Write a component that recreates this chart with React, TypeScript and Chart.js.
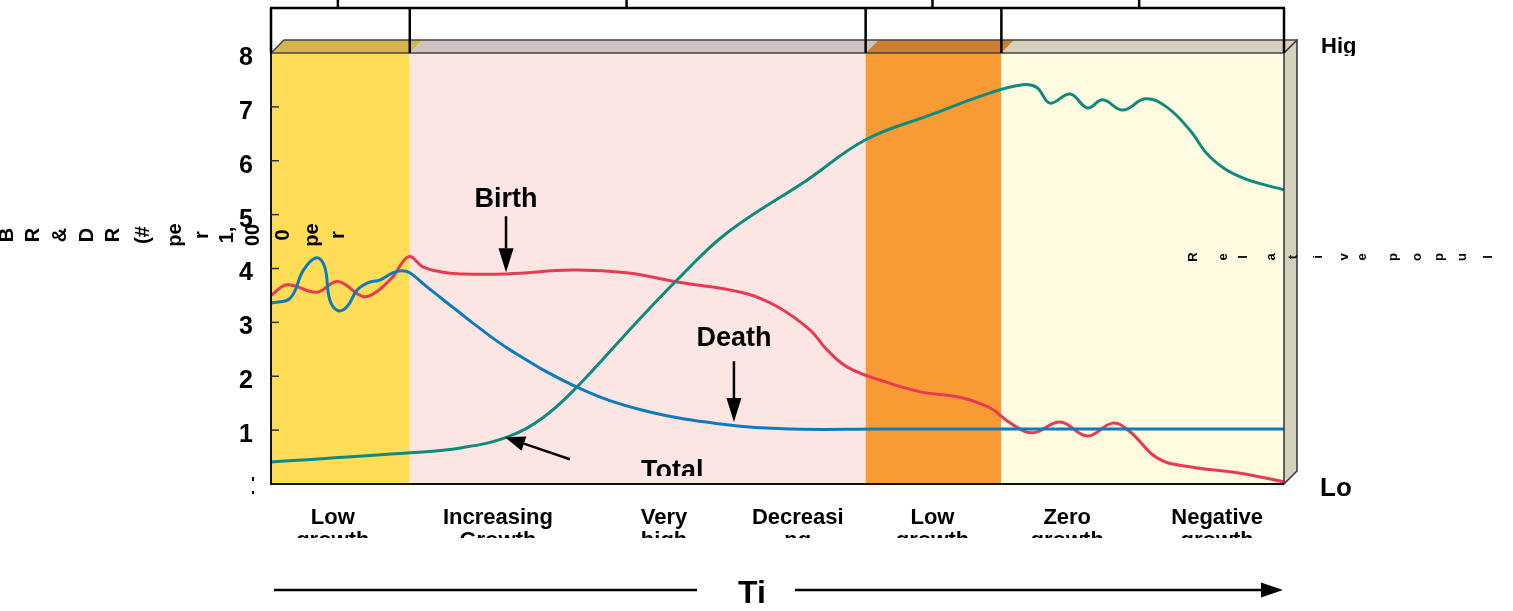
import { useEffect, useRef } from "react";
import { Chart, registerables } from "chart.js";

Chart.register(...registerables);

// ---- data (x = time position 0..100, y = rate per 1,000) ----
const birthX = [0, 1.6, 4.5, 6.6, 9.1, 10.5, 12.0, 13.6, 15.0, 16.7, 18.7, 23.3, 29.8, 35.1, 40.1, 46.6, 50.0, 53.2, 54.9, 56.9, 60.1, 64.1, 68.0, 71.0, 73.0, 75.2, 77.9, 80.6, 83.1, 84.8, 87.5, 90.7, 95.7, 100];
const birthY = [3.5, 3.7, 3.56, 3.76, 3.48, 3.58, 3.84, 4.22, 4.03, 3.94, 3.9, 3.9, 3.97, 3.92, 3.75, 3.55, 3.29, 2.86, 2.49, 2.17, 1.93, 1.71, 1.61, 1.41, 1.13, 0.95, 1.15, 0.89, 1.13, 0.97, 0.48, 0.32, 0.2, 0.04];

const deathX = [0, 1.9, 3.2, 4.5, 5.3, 5.8, 6.6, 7.5, 8.5, 9.5, 10.8, 12.0, 12.9, 13.7, 15.4, 17.4, 18.7, 19.9, 23.6, 30.2, 36.7, 45.0, 51.5, 60.1, 100];
const deathY = [3.36, 3.45, 3.97, 4.2, 4.03, 3.42, 3.22, 3.29, 3.6, 3.73, 3.79, 3.92, 3.96, 3.92, 3.66, 3.36, 3.17, 2.99, 2.49, 1.8, 1.37, 1.1, 1.02, 1.02, 1.02];

const totalX = [0, 13.7, 18.7, 23.3, 26.9, 30.2, 35.1, 40.1, 45.0, 52.9, 58.7, 65.1, 71.0, 74.2, 75.6, 76.9, 78.9, 80.6, 82.1, 84.1, 86.3, 88.4, 90.7, 92.7, 95.7, 100];
const totalY = [0.41, 0.58, 0.67, 0.87, 1.24, 1.8, 2.8, 3.79, 4.66, 5.64, 6.39, 6.85, 7.26, 7.41, 7.36, 7.07, 7.24, 6.98, 7.13, 6.94, 7.15, 7.0, 6.57, 6.07, 5.7, 5.46];

const stageBounds = [0, 13.7, 58.7, 72.1, 100];
const bandFill = ["#ffdd57", "#fce6e4", "#f99b35", "#fefbe0"];
const bandTop = ["#d6b54e", "#cfc2c0", "#c98031", "#d4d2bc"];
const bracketCenters = [6.6, 35.1, 65.3, 85.7];

const stageLine1 = ["Low", "Increasing", "Very", "Decreasi", "Low", "Zero", "Negative"];
const stageLine2 = ["growth", "Growth", "high", "ng", "growth", "growth", "growth"];
const stageLabelX = [6.1, 22.4, 38.8, 52.0, 65.3, 78.6, 93.4];

const yTitleParts = ["B", "R", "&", "D", "R", "(#", "pe", "r", "1,", "00", "0", "pe", "r"];
const yTitleX = [7, 33, 60, 87, 113, 143, 175, 202, 227, 253, 283, 312, 338];
const rightTitleChars = ["R", "e", "l", "a", "t", "i", "v", "e", "p", "o", "p", "u", "l"];
const rightTitleX = [1193, 1223, 1243, 1271, 1293, 1318, 1344, 1362, 1393, 1417, 1439, 1462, 1488];

const FONT = '"Liberation Sans", Arial, Helvetica, sans-serif';

function arrow(ctx: CanvasRenderingContext2D, x1: number, y1: number, x2: number, y2: number, headLen: number, headW: number, lw: number) {
  const ang = Math.atan2(y2 - y1, x2 - x1);
  const bx = x2 - headLen * Math.cos(ang);
  const by = y2 - headLen * Math.sin(ang);
  ctx.beginPath();
  ctx.moveTo(x1, y1);
  ctx.lineTo(bx, by);
  ctx.lineWidth = lw;
  ctx.stroke();
  ctx.beginPath();
  ctx.moveTo(x2, y2);
  ctx.lineTo(bx + (headW / 2) * Math.sin(ang), by - (headW / 2) * Math.cos(ang));
  ctx.lineTo(bx - (headW / 2) * Math.sin(ang), by + (headW / 2) * Math.cos(ang));
  ctx.closePath();
  ctx.fill();
}

function clippedText(ctx: CanvasRenderingContext2D, text: string, x: number, y: number, clipBottom: number) {
  ctx.save();
  ctx.beginPath();
  ctx.rect(0, 0, 1513, clipBottom);
  ctx.clip();
  ctx.fillText(text, x, y);
  ctx.restore();
}

const decor = {
  id: "decor",
  beforeDatasetsDraw(chart: any) {
    const { ctx, chartArea: a, scales } = chart;
    const xs = scales.x;
    ctx.save();
    for (let i = 0; i < bandFill.length; i++) {
      const x0 = xs.getPixelForValue(stageBounds[i]);
      const x1 = xs.getPixelForValue(stageBounds[i + 1]);
      ctx.fillStyle = bandFill[i];
      ctx.fillRect(x0, a.top, x1 - x0, a.bottom - a.top);
    }
    ctx.restore();
  },
  afterDatasetsDraw(chart: any) {
    const { ctx, chartArea: a, scales } = chart;
    const xs = scales.x;
    const ys = scales.y;
    const d = 13;
    ctx.save();

    // top face
    for (let i = 0; i < bandTop.length; i++) {
      const x0 = xs.getPixelForValue(stageBounds[i]);
      const x1 = xs.getPixelForValue(stageBounds[i + 1]);
      ctx.fillStyle = bandTop[i];
      ctx.beginPath();
      ctx.moveTo(x0, a.top);
      ctx.lineTo(x0 + d, a.top - d);
      ctx.lineTo(x1 + d, a.top - d);
      ctx.lineTo(x1, a.top);
      ctx.closePath();
      ctx.fill();
    }
    // right face
    ctx.fillStyle = "#d4d2bd";
    ctx.beginPath();
    ctx.moveTo(a.right, a.top);
    ctx.lineTo(a.right + d, a.top - d);
    ctx.lineTo(a.right + d, a.bottom - d);
    ctx.lineTo(a.right, a.bottom);
    ctx.closePath();
    ctx.fill();
    ctx.strokeStyle = "#333";
    ctx.lineWidth = 1.5;
    ctx.stroke();
    // top face outline
    ctx.strokeStyle = "#444";
    ctx.lineWidth = 1.5;
    ctx.beginPath();
    ctx.moveTo(a.left, a.top);
    ctx.lineTo(a.left + d, a.top - d);
    ctx.lineTo(a.right + d, a.top - d);
    ctx.stroke();
    ctx.beginPath();
    ctx.moveTo(a.left, a.top);
    ctx.lineTo(a.right, a.top);
    ctx.stroke();
    // plot border
    ctx.strokeStyle = "#111";
    ctx.lineWidth = 2;
    ctx.beginPath();
    ctx.moveTo(a.left, a.top);
    ctx.lineTo(a.left, a.bottom);
    ctx.lineTo(a.right, a.bottom);
    ctx.stroke();
    // inner y ticks
    ctx.lineWidth = 1.5;
    ctx.strokeStyle = "#333";
    for (let v = 1; v <= 7; v++) {
      const py = ys.getPixelForValue(v);
      ctx.beginPath();
      ctx.moveTo(a.left, py);
      ctx.lineTo(a.left + 8, py);
      ctx.stroke();
    }

    // brackets
    ctx.strokeStyle = "#000";
    ctx.lineWidth = 2.5;
    const by = 8;
    ctx.beginPath();
    ctx.moveTo(a.left - 1, by);
    ctx.lineTo(a.right + 1, by);
    ctx.stroke();
    for (const b of stageBounds) {
      const px = xs.getPixelForValue(b);
      ctx.beginPath();
      ctx.moveTo(px, by);
      ctx.lineTo(px, a.top);
      ctx.stroke();
    }
    for (const c of bracketCenters) {
      const px = xs.getPixelForValue(c);
      ctx.beginPath();
      ctx.moveTo(px, 0);
      ctx.lineTo(px, by);
      ctx.stroke();
    }

    // annotations
    ctx.fillStyle = "#000";
    ctx.strokeStyle = "#000";
    ctx.font = `bold 27px ${FONT}`;
    ctx.textAlign = "center";
    ctx.textBaseline = "alphabetic";
    const bx = xs.getPixelForValue(23.2);
    ctx.fillText("Birth", bx, ys.getPixelForValue(5.14));
    arrow(ctx, bx, ys.getPixelForValue(4.97), bx, ys.getPixelForValue(3.93), 24, 15, 2.5);
    const dx = xs.getPixelForValue(45.7);
    ctx.fillText("Death", dx, ys.getPixelForValue(2.56));
    arrow(ctx, dx, ys.getPixelForValue(2.28), dx, ys.getPixelForValue(1.15), 24, 15, 2.5);
    clippedText(ctx, "Total", xs.getPixelForValue(39.6), ys.getPixelForValue(0.1), ys.getPixelForValue(0.15));
    arrow(ctx, xs.getPixelForValue(29.5), ys.getPixelForValue(0.46), xs.getPixelForValue(23.1), ys.getPixelForValue(0.87), 20, 15, 2.5);

    // y axis title fragments
    ctx.font = `bold 20px ${FONT}`;
    ctx.textBaseline = "middle";
    for (let i = 0; i < yTitleParts.length; i++) {
      ctx.save();
      ctx.translate(yTitleX[i], 235);
      ctx.rotate(-Math.PI / 2);
      ctx.fillText(yTitleParts[i], 0, 0);
      ctx.restore();
    }
    // right title fragments
    ctx.font = `bold 13px ${FONT}`;
    for (let i = 0; i < rightTitleChars.length; i++) {
      ctx.save();
      ctx.translate(rightTitleX[i], 257);
      ctx.rotate(-Math.PI / 2);
      ctx.fillText(rightTitleChars[i], 0, 0);
      ctx.restore();
    }
    // stray marks at the 0 label
    ctx.fillRect(252, 477, 2, 4);
    ctx.fillRect(252, 491, 2, 3);

    // High / Low
    ctx.textAlign = "left";
    ctx.textBaseline = "alphabetic";
    ctx.font = `bold 22px ${FONT}`;
    clippedText(ctx, "Hig", 1321, 53, 56);
    ctx.font = `bold 26px ${FONT}`;
    ctx.fillText("Lo", 1320, 496);

    // stage labels
    ctx.textAlign = "center";
    ctx.font = `bold 22px ${FONT}`;
    for (let i = 0; i < stageLine1.length; i++) {
      const px = xs.getPixelForValue(stageLabelX[i]);
      ctx.fillText(stageLine1[i], px, 524);
      clippedText(ctx, stageLine2[i], px, 547, 538);
    }

    // time arrow
    ctx.lineWidth = 2.5;
    ctx.beginPath();
    ctx.moveTo(274, 590);
    ctx.lineTo(697, 590);
    ctx.stroke();
    arrow(ctx, 795, 590, 1283, 590, 22, 15, 2.5);
    ctx.font = `bold 32px ${FONT}`;
    clippedText(ctx, "Ti", 752, 603, 606);

    ctx.restore();
  },
};

export default function App() {
  const ref = useRef<HTMLCanvasElement>(null);
  useEffect(() => {
    if (!ref.current) return;
    const mk = (xs: number[], ys: number[]) => xs.map((x, i) => ({ x, y: ys[i] }));
    const common = { borderWidth: 3, pointRadius: 0, tension: 0.4, fill: false };
    const chart = new Chart(ref.current, {
      type: "line",
      data: {
        datasets: [
          { label: "Total", data: mk(totalX, totalY), borderColor: "#0f8a7f", ...common },
          { label: "Death", data: mk(deathX, deathY), borderColor: "#0f7bbf", ...common },
          { label: "Birth", data: mk(birthX, birthY), borderColor: "#e83a52", ...common },
        ],
      },
      options: {
        animation: false,
        responsive: false,
        devicePixelRatio: 1,
        layout: { padding: { top: 53, right: 229, bottom: 127, left: 0 } },
        plugins: { legend: { display: false }, tooltip: { enabled: false } },
        scales: {
          x: { type: "linear", min: 0, max: 100, display: false },
          y: {
            min: 0,
            max: 8,
            afterFit: (s: any) => { s.width = 271; },
            border: { display: false },
            grid: { display: false, drawTicks: false },
            ticks: {
              stepSize: 1,
              padding: 18,
              labelOffset: 5,
              color: "#000",
              font: { family: FONT, size: 25, weight: "bold" },
              callback: (v: any) => (v === 0 ? "" : String(v)),
            },
          },
        },
      },
      plugins: [decor],
    });
    return () => chart.destroy();
  }, []);
  return (
    <div style={{ position: "absolute", left: 0, top: 0, width: 1513, height: 611 }}>
      <canvas ref={ref} width={1513} height={611} />
    </div>
  );
}
